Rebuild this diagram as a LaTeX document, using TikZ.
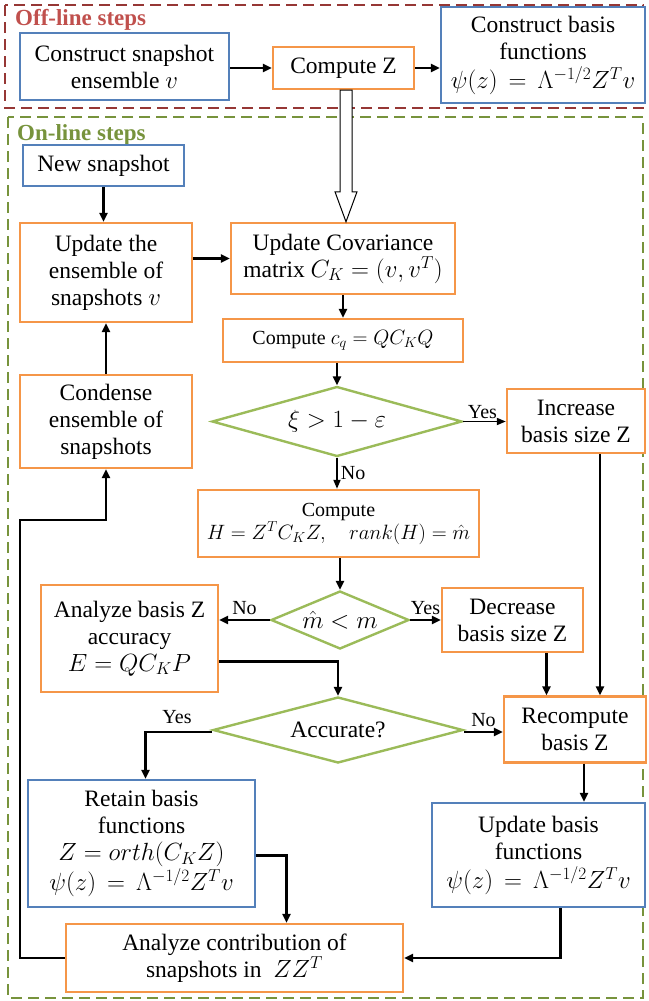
\documentclass[tikz,border=0pt]{standalone}
\usepackage{fontspec}
\setmainfont{Liberation Serif}
\usetikzlibrary{arrows.meta,shapes.geometric}
\definecolor{bblue}{RGB}{84,128,186}
\definecolor{borange}{RGB}{245,150,72}
\definecolor{dgreen}{RGB}{155,187,89}
\definecolor{fred}{RGB}{150,55,53}
\definecolor{tred}{RGB}{192,80,77}
\definecolor{fgreen}{RGB}{119,147,60}
\tikzset{
  box/.style={draw, line width=2.4pt, align=center, inner sep=1pt, fill=white,
    font=\fontsize{23.5}{27}\selectfont},
  bluebox/.style={box, draw=bblue},
  orbox/.style={box, draw=borange},
  dia/.style={draw=dgreen, line width=2.4pt, shape=diamond, inner sep=0pt, align=center,
    font=\fontsize{23.5}{27}\selectfont},
  arr/.style={draw=black, line width=2.6pt, -{Triangle[length=9pt,width=8pt]}},
  thinarr/.style={draw=black, line width=1.8pt, -{Triangle[length=9pt,width=7pt]}},
  lab/.style={font=\fontsize{20}{22}\selectfont, inner sep=1pt},
  frame/.style={line width=2.6pt, dash pattern=on 11pt off 6pt},
  ftitle/.style={font=\bfseries\fontsize{23}{25}\selectfont, anchor=west, inner sep=0pt},
}
\begin{document}
\begin{tikzpicture}[x=1pt,y=-1pt]
\useasboundingbox (0,0) rectangle (648,1001);
% frames
\draw[frame, draw=fred] (5,5) rectangle (643,108);
\draw[frame, draw=fgreen] (8,117) rectangle (643,998);
\node[ftitle, text=tred] (offt) at (15,20) {Off-line steps};
\node[ftitle, text=fgreen] (ont) at (17,135) {On-line steps};
% off-line nodes
\node[bluebox, minimum width=209pt, minimum height=67pt] (cse) at (124.5,66.5) {Construct snapshot\\ensemble $v$};
\node[orbox, minimum width=141pt, minimum height=42pt] (cz) at (343.5,68) {Compute Z};
\node[bluebox, minimum width=204pt, minimum height=96pt] (cbf) at (543,55) {Construct basis\\functions\\[2pt]$\psi(z)\,=\,\Lambda^{-1/2}Z^{T}v$};
% on-line nodes
\node[bluebox, minimum width=161pt, minimum height=41pt] (ns) at (103.5,165.5) {New snapshot};
\node[orbox, minimum width=172pt, minimum height=99pt] (ue) at (106,272.5) {Update the\\ensemble of\\snapshots $v$};
\node[orbox, minimum width=224pt, minimum height=71pt] (uc) at (343,258.5) {Update Covariance\\matrix $C_K=(v,v^{T})$};
\node[orbox, minimum width=240pt, minimum height=43pt, font=\fontsize{20}{22}\selectfont] (cq) at (343,340.5) {Compute $c_q = QC_KQ$};
\node[dia, minimum width=250pt, minimum height=70pt, aspect=3.5] (d1) at (337,421.5) {$\xi > 1-\varepsilon$};
\node[orbox, minimum width=138pt, minimum height=64pt] (inc) at (576,421) {Increase\\basis size Z};
\node[orbox, minimum width=172pt, minimum height=93pt] (cd) at (106,421.5) {Condense\\ensemble of\\snapshots};
\node[orbox, minimum width=281pt, minimum height=67pt, font=\fontsize{20}{22}\selectfont] (ch) at (338.5,523.5) {Compute\\[1pt]$H = Z^{T}C_KZ,\quad rank(H) = \hat{m}$};
\node[dia, minimum width=138pt, minimum height=58pt, aspect=2.4] (d2) at (340,620) {$\hat{m} < m$};
\node[orbox, minimum width=177pt, minimum height=107pt] (ab) at (129.5,638.5) {Analyze basis Z\\accuracy\\$E = QC_KP$};
\node[orbox, minimum width=141pt, minimum height=64pt] (dec) at (512.5,620) {Decrease\\basis size Z};
\node[dia, minimum width=250pt, minimum height=66pt, aspect=3.8] (d3) at (338,730) {Accurate?};
\node[orbox, minimum width=142pt, minimum height=66pt] (rec) at (575,729.5) {Recompute\\basis Z};
\node[bluebox, minimum width=227pt, minimum height=127pt] (rb) at (141.5,843.5) {Retain basis\\functions\\$Z = orth(C_KZ)$\\[1pt]$\psi(z)\,=\,\Lambda^{-1/2}Z^{T}v$};
\node[bluebox, minimum width=213pt, minimum height=104pt] (ub) at (538.5,855) {Update basis\\functions\\[2pt]$\psi(z)\,=\,\Lambda^{-1/2}Z^{T}v$};
\node[orbox, minimum width=337pt, minimum height=68pt] (ac) at (234.5,958) {Analyze contribution of\\snapshots in \ $ZZ^{T}$};
% off-line connectors
\draw[arr] (cse.east |- cz.west) -- (cz.west);
\draw[arr] (cz.east) -- (cz.east -| cbf.west);
% hollow arrow
\coordinate (hs) at ([xshift=2.5pt]cz.south);
\coordinate (he) at (hs |- uc.north);
\draw[black, line width=1pt, fill=white]
  ([xshift=-6pt]hs) -- ([xshift=-6pt,yshift=30pt]he) -- ([xshift=-11pt,yshift=30pt]he)
  -- (he) -- ([xshift=11pt,yshift=30pt]he) -- ([xshift=6pt,yshift=30pt]he) -- ([xshift=6pt]hs) -- cycle;
% on-line connectors
\draw[arr] (ns.south) -- (ns.south |- ue.north);
\draw[arr] (ue.east |- uc.west) -- (uc.west);
\draw[arr] (uc.south) -- (uc.south |- cq.north);
\draw[arr] (cq.south -| d1.north) -- (d1.north);
\draw[thinarr] (d1.east) -- (d1.east -| inc.west) node[lab, pos=0.45, above=1pt] {Yes};
\draw[thinarr] (d1.south) -- (d1.south |- ch.north) node[lab, midway, right=2pt] {No};
\draw[arr] (ch.south -| d2.north) -- (d2.north);
\draw[arr] (d2.west) -- (d2.west -| ab.east) node[lab, midway, above=3pt] {No};
\draw[arr] (d2.east) -- (d2.east -| dec.west) node[lab, midway, above=3pt] {Yes};
\draw[arr] ([yshift=-23pt]ab.east) -| (d3.north);
\draw[arr] ([yshift=-2pt]d3.west) -| ([xshift=4pt]rb.north);
\node[lab] (yes3) at (177,717) {Yes};
\draw[arr] ([yshift=-2pt]d3.east) -- ([yshift=-2pt]d3.east -| rec.west) node[lab, midway, above=3pt] {No};
\draw[arr] ([xshift=34pt]dec.south) -- ([xshift=34pt]dec.south |- rec.north);
\draw[arr] ([xshift=24pt]inc.south) -- ([xshift=24pt]inc.south |- rec.north);
\draw[arr] ([xshift=9pt]rec.south) -- ([xshift=9pt]rec.south |- ub.north);
\draw[arr] ([yshift=-12pt]rb.east) -| ([xshift=52pt]ac.north);
\draw[arr] ([xshift=22pt]ub.south) |- (ac.east);
\coordinate (lp) at (20,520);
\draw[arr] (ac.west) -| (lp) -| (cd.south);
\draw[arr] (cd.north) -- (ue.south);
\end{tikzpicture}
\end{document}
